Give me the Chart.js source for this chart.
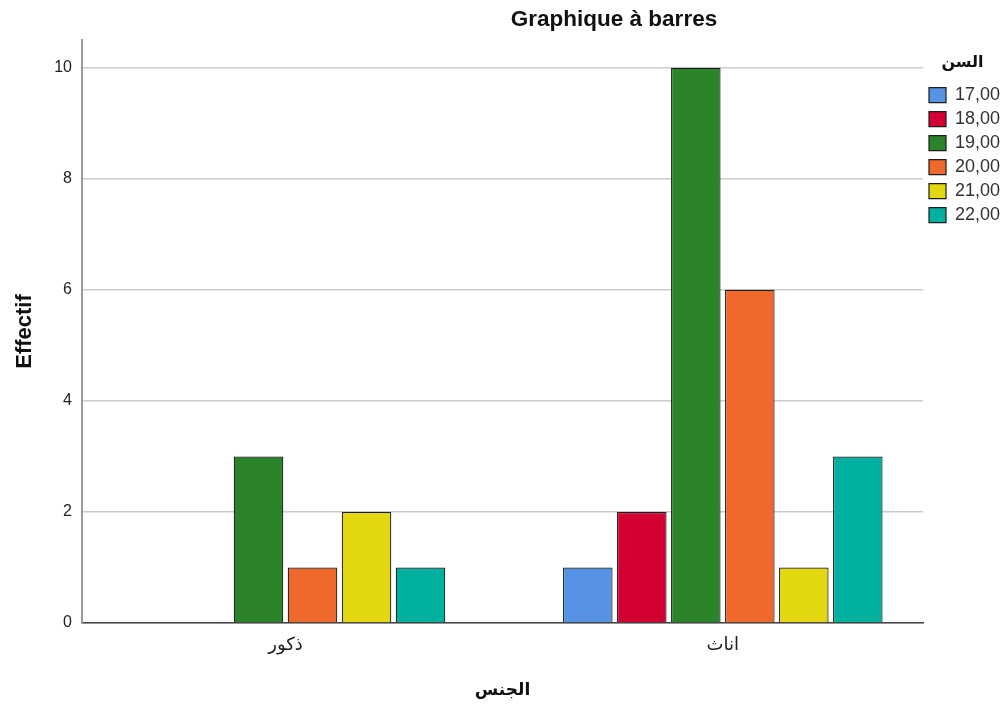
<!DOCTYPE html>
<html>
<head>
<meta charset="utf-8">
<script src="https://cdn.jsdelivr.net/npm/chart.js@4"></script>
<style>
  html, body { margin: 0; padding: 0; background: #fff; }
  #wrap { width: 1002px; height: 709px; }
</style>
</head>
<body>
<div id="wrap"><canvas id="myChart"></canvas></div>
<script>
// data
const chartTitle = "Graphique à barres";
const categories = ["ذكور", "اناث"];
const ageLabels = ["17,00", "18,00", "19,00", "20,00", "21,00", "22,00"];
const age17 = [0, 1];
const age18 = [0, 2];
const age19 = [3, 10];
const age20 = [1, 6];
const age21 = [2, 1];
const age22 = [1, 3];
const yTicks = [0, 2, 4, 6, 8, 10];

const seriesValues = [age17, age18, age19, age20, age21, age22];
const colors = ["#5693E5", "#D50032", "#2B8429", "#F1682C", "#E3D710", "#00B1A0"];
const font = "'Liberation Sans', Arial, 'DejaVu Sans', sans-serif";

// title is centred a bit right of the plot, like the original
const titlePlugin = {
	id: "customTitle",
	afterDraw(chart) {
		const c = chart.ctx;
		c.save();
		c.font = "bold 22.5px " + font;
		c.fillStyle = "#111";
		c.textAlign = "center";
		c.textBaseline = "middle";
		c.fillText(chartTitle, 614, 20);
		c.restore();
	},
};

const ctx = document.getElementById("myChart");

new Chart(ctx, {
	type: "bar",
	data: {
		datasets: seriesValues.map((vals, i) => ({
			label: ageLabels[i],
			data: vals.map((v, j) => ({ x: j, y: v })),
			backgroundColor: colors[i],
			borderColor: "#1c1c1c",
			borderWidth: 1.2,
			categoryPercentage: 0.741,
			barPercentage: 0.917,
		})),
	},
	options: {
		responsive: true,
		maintainAspectRatio: false,
		animation: false,
		layout: { padding: { top: 40, left: 0, right: 0, bottom: 0 } },
		plugins: {
			tooltip: { enabled: false },
			legend: {
				position: "right",
				align: "start",
				maxWidth: 79,
				title: {
					display: true,
					text: "السن",
					color: "#111",
					font: { family: font, size: 16, weight: "bold" },
					padding: { top: 15, bottom: 6 },
				},
				labels: {
					boxWidth: 17,
					boxHeight: 15,
					padding: 6,
					color: "#333",
					font: { family: font, size: 18 },
				},
			},
		},
		scales: {
			x: {
				type: "linear",
				offset: false,
				min: -0.4654,
				max: 1.4578,
				afterBuildTicks: (scale) => {
					scale.ticks = categories.map((c, i) => ({ value: i }));
				},
				afterFit: (scale) => {
					scale.height = 86;
				},
				grid: { display: false, drawTicks: false },
				border: { display: true, color: "#444", width: 1.5 },
				ticks: {
					autoSkip: false,
					maxRotation: 0,
					padding: 11,
					color: "#222",
					font: { family: font, size: 18 },
					callback: (v) => categories[v],
				},
				title: {
					display: true,
					text: "الجنس",
					color: "#111",
					font: { family: font, size: 17, weight: "bold" },
					padding: { top: 0, bottom: 8 },
				},
			},
			y: {
				min: 0,
				max: 10.5,
				afterBuildTicks: (scale) => {
					scale.ticks = yTicks.map((v) => ({ value: v }));
				},
				afterFit: (scale) => {
					scale.width = 82;
				},
				grid: { color: "#cbcbcb", lineWidth: 1.5, drawTicks: false },
				border: { display: true, color: "#9a9a9a", width: 2 },
				ticks: {
					padding: 10,
					color: "#222",
					font: { family: font, size: 16 },
				},
				title: {
					display: true,
					text: "Effectif",
					color: "#111",
					font: { family: font, size: 22, weight: "bold" },
					padding: { top: 12 },
				},
			},
		},
	},
	plugins: [titlePlugin],
});
</script>
</body>
</html>
